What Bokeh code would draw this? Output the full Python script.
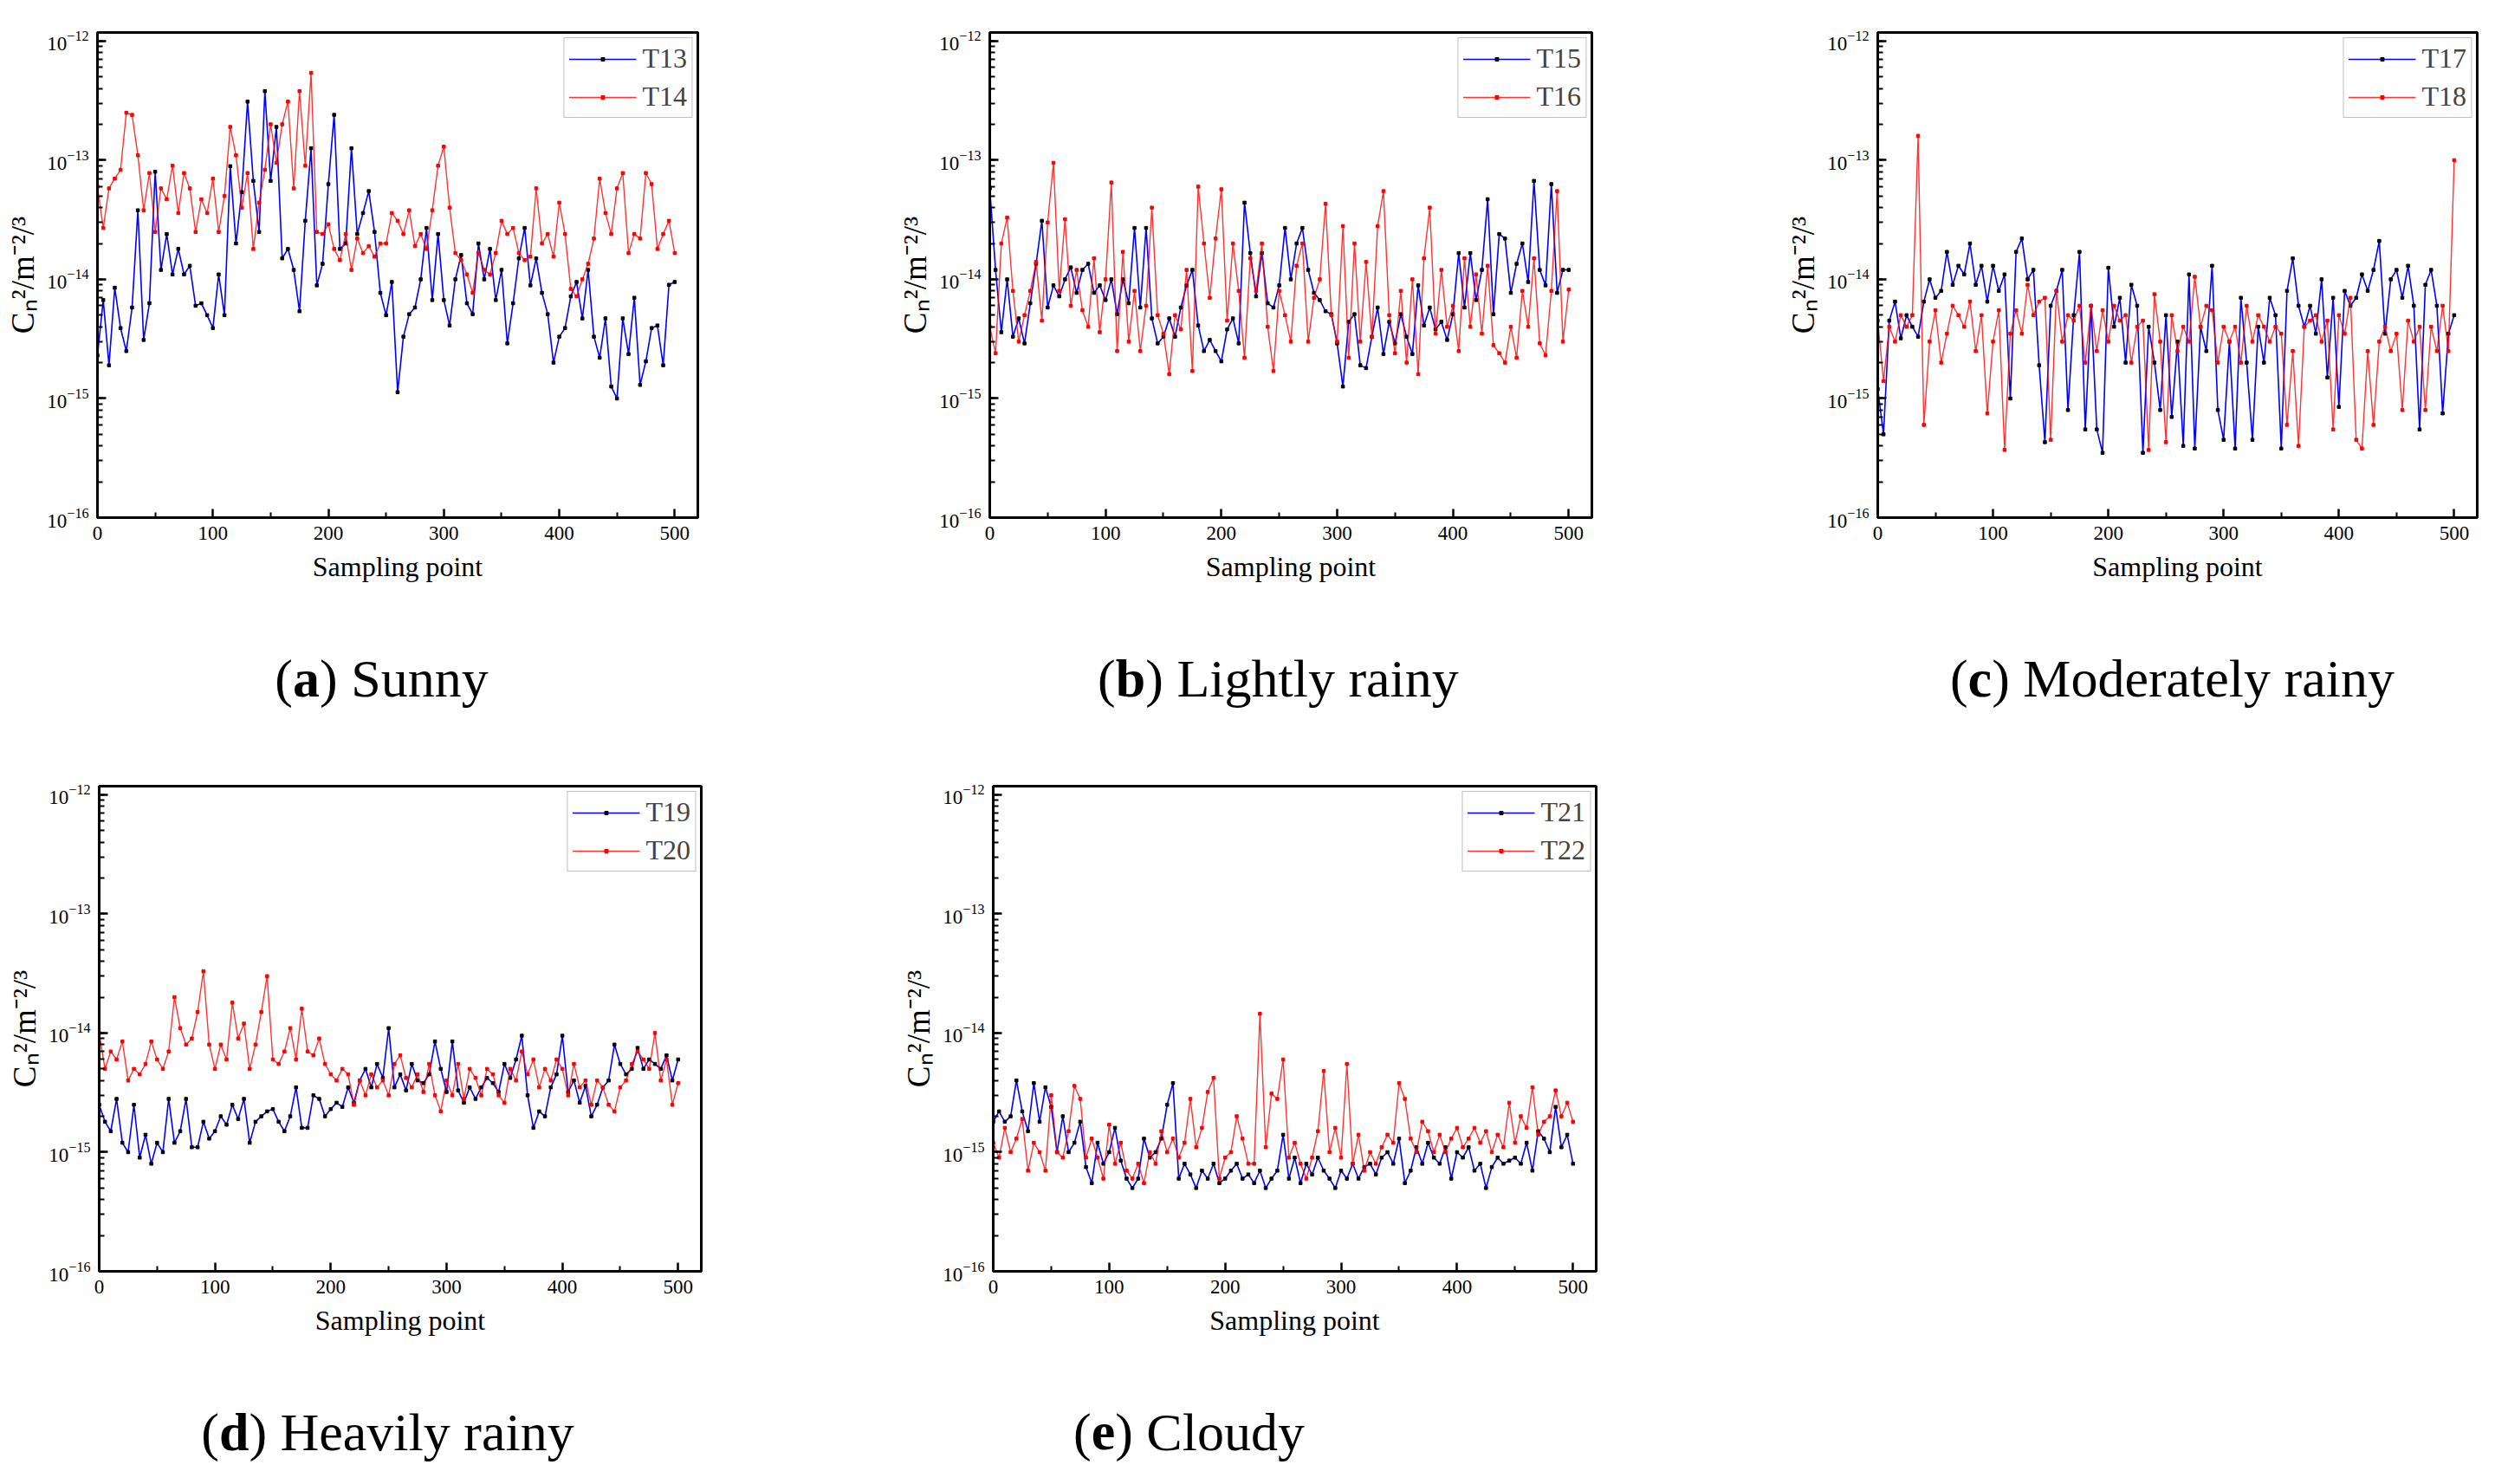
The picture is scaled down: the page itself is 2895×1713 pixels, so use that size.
from bokeh.plotting import figure
from bokeh.layouts import column, row
from bokeh.models import Range1d, FixedTicker, LogTicker, Legend, LegendItem, ColumnDataSource
from bokeh.embed import file_html
from bokeh.resources import INLINE
from bokeh.core.properties import value

# ---------------- data (values in units of 1e-15 m^-2/3) ----------------
SAMPLING = list(range(0, 501, 5))
UNIT = 1e-15

T13 = [2.3, 6.7, 1.9, 8.5, 3.9, 2.5, 5.8, 38, 3.1, 6.3,
       80, 12, 24, 11, 18, 11, 13, 6, 6.3, 5,
       3.9, 11, 5, 89, 20, 54, 310, 67, 25, 380,
       67, 190, 15, 18, 12, 5.4, 31, 126, 8.9, 13.5,
       63, 240, 18, 20, 126, 24, 36, 55, 25, 7.7,
       5, 9.5, 1.13, 3.3, 5.1, 5.8, 10, 27, 6.7, 24,
       6.7, 4.1, 10, 16, 6.3, 5.1, 20, 10, 18, 6.7,
       12, 2.9, 6.3, 15, 27, 8.9, 15, 7.7, 5.1, 2.0,
       3.3, 3.9, 7.2, 9.5, 4.7, 12, 3.3, 2.2, 4.7, 1.26,
       1.0, 4.7, 2.36, 7, 1.3, 2.05, 3.9, 4.1, 1.9, 9,
       9.5]
T14 = [60, 27, 58, 70, 83, 250, 240, 110, 38, 78,
       25, 58, 47, 90, 36, 78, 58, 25, 47, 36,
       70, 25, 50, 190, 110, 40, 78, 18, 44, 83,
       200, 95, 200, 310, 58, 380, 90, 540, 25, 24,
       29, 18, 14.5, 24, 12, 22, 16.6, 19, 15.5, 20,
       20, 36, 31, 24, 38, 19, 24, 18, 38, 90,
       130, 40, 16.6, 14.5, 11, 7.7, 16.6, 12, 11, 16.6,
       31, 24, 27, 16.6, 14.5, 15.5, 58, 20, 24, 15.5,
       44, 24, 8.3, 7.2, 10, 13.5, 22, 70, 36, 24,
       58, 78, 16.6, 24, 22, 78, 63, 18, 24, 31,
       16.6]
T15 = [58, 12, 3.6, 10, 3.3, 4.7, 2.9, 6.3, 13.5, 31,
       5.8, 8.9, 7.2, 10, 12.6, 7.7, 12, 13.5, 7.7, 8.9,
       6.7, 10, 5.1, 10, 6.3, 27, 5.8, 27, 4.7, 2.9,
       3.3, 4.7, 3.3, 5.8, 8.9, 12, 4.1, 2.5, 3.1, 2.5,
       2.05, 3.8, 4.7, 2.9, 44, 16.6, 7.2, 16.6, 6.3, 5.8,
       8.9, 27, 10, 20, 27, 12, 7.7, 6.7, 5.4, 5.1,
       2.9, 1.26, 4.4, 5.1, 1.9, 1.8, 3.3, 5.8, 2.36, 4.4,
       2.9, 5.1, 3.3, 2.36, 8.9, 4.1, 5.8, 3.8, 4.4, 3.1,
       5.1, 16.6, 5.8, 16.6, 6.7, 12, 47, 5.1, 24, 22,
       7.7, 13.5, 20, 9.5, 67, 12, 8.9, 63, 7.7, 12,
       12]
T16 = [4, 2.4, 20, 33, 8, 3.0, 5, 8, 14, 4.5,
       30, 95, 8, 32, 6, 12, 5.5, 4, 15, 3.6,
       10, 65, 2.5, 17, 3, 8, 2.5, 6, 40, 5,
       3.5, 1.6, 5, 3.8, 12, 1.7, 60, 20, 7, 22,
       57, 4.5, 20, 8, 2.2, 15, 8, 20, 4, 1.7,
       8, 5, 3, 13, 20, 3, 7, 10, 43, 5,
       3, 28, 2.2, 20, 3, 14, 3.3, 28, 55, 5,
       2.4, 8, 2, 10, 1.6, 15, 40, 3.5, 12, 4,
       6, 2.5, 15, 4, 11, 3.5, 13, 2.8, 2.4, 2.0,
       4, 2.2, 8, 4, 15, 2.9, 2.3, 8, 55, 3,
       8.2]
T17 = [1.2, 0.5, 4.5, 6.5, 3.2, 5, 4, 3.3, 6.5, 10,
       7, 8, 17, 9, 13, 11, 20, 9, 13, 6.5,
       13, 8, 11, 1.0, 17, 22, 10, 12, 1.9, 0.43,
       6, 8, 12, 0.8, 5, 17, 0.55, 6, 0.55, 0.35,
       12.5, 4, 7, 2, 9, 6, 0.35, 4, 2, 0.8,
       5, 0.7, 3, 0.4, 11, 0.38, 4, 2.5, 13, 0.8,
       0.45, 3, 0.38, 7, 2, 0.45, 4, 2, 7, 5,
       0.38, 8, 15, 6, 4, 6, 3.5, 10, 1.5, 7,
       0.85, 8, 6, 7, 11, 8, 12, 21, 3.5, 10,
       12, 7, 13, 6, 0.55, 9, 12, 6, 0.75, 3.5,
       5]
T18 = [4.5, 1.4, 4, 3, 5, 4, 5, 160, 0.6, 3,
       5.5, 2.0, 3.5, 6, 5, 4, 6.5, 2.5, 5, 0.75,
       3, 5.5, 0.37, 3.5, 5.5, 3.5, 9, 5, 6.5, 7,
       0.45, 8, 3, 5, 4.5, 6, 2, 6, 2.5, 5.5,
       3, 6, 4.5, 5, 2, 4, 4.5, 0.37, 7.5, 3,
       0.43, 5, 2.5, 4, 3, 10.5, 4, 6, 5.5, 2,
       4, 3, 4, 2, 6, 3, 5, 4, 3, 4,
       3.5, 0.6, 2.5, 0.4, 4, 4.5, 5, 3, 4.5, 0.55,
       5, 3.5, 7, 0.45, 0.38, 2.5, 0.6, 3, 4, 2.5,
       3.5, 0.8, 4.5, 3, 4, 0.8, 4, 2.5, 6, 2.5,
       100]
T19 = [2.5, 1.8, 1.5, 2.8, 1.2, 1.0, 2.5, 0.9, 1.4, 0.8,
       1.2, 1.0, 2.8, 1.2, 1.5, 2.8, 1.1, 1.1, 1.8, 1.3,
       1.5, 2.0, 1.7, 2.5, 1.9, 2.8, 1.2, 1.8, 2.0, 2.2,
       2.3, 1.8, 1.5, 2.0, 3.5, 1.6, 1.6, 3.0, 2.8, 2.0,
       2.3, 2.6, 2.4, 3.5, 2.6, 4.0, 5.0, 3.5, 5.5, 4.2,
       11, 3.5, 4.5, 3.3, 5.5, 4.0, 3.8, 4.5, 8.5, 5.0,
       3.2, 8.5, 3.3, 2.6, 3.5, 2.8, 3.5, 4.2, 3.8, 3.2,
       5.5, 4.2, 6.0, 9.5, 3.0, 1.6, 2.2, 2.0, 3.5, 4.5,
       9.5, 3.2, 4.0, 2.6, 3.6, 2.0, 2.5, 3.5, 4.0, 8.0,
       5.5, 4.5, 5.0, 7.5, 5.0, 6.0, 5.5, 5.0, 6.5, 4.0,
       6.0]
T20 = [10, 5, 7, 6, 8.5, 4, 5, 4.5, 5.5, 8.5,
       6, 5, 7, 20, 11, 8, 9, 15, 33, 8,
       5, 8, 6, 18, 9, 12, 5, 8, 15, 30,
       6, 5.5, 7, 11, 6, 16, 7, 6.5, 9, 5.5,
       4.5, 4, 5, 4.5, 2.5, 4, 3, 4.5, 3.5, 4,
       3, 5.5, 6.5, 4.2, 3.5, 4.5, 3.2, 5.5, 3, 2.2,
       4, 3, 5.5, 2.8, 5, 4.2, 3, 5, 4.5, 3,
       2.6, 5, 4, 7, 4.5, 6, 3.5, 5, 4, 6,
       5, 3, 5.5, 3.5, 4, 2.5, 4, 3.5, 2.5, 2.2,
       3.5, 4, 5.5, 7, 6, 5, 10, 4, 6, 2.5,
       3.8]
T21 = [1.8, 2.2, 1.8, 2.0, 4.0, 2.2, 1.5, 3.8, 1.8, 3.5,
       2.4, 1.0, 2.0, 1.0, 1.2, 1.8, 0.75, 0.55, 1.2, 0.8,
       1.0, 1.6, 0.85, 0.6, 0.5, 0.6, 1.3, 0.9, 1.0, 1.3,
       2.5, 3.8, 0.6, 0.8, 0.65, 0.5, 0.7, 0.6, 0.8, 0.55,
       0.6, 0.7, 0.8, 0.6, 0.65, 0.55, 0.7, 0.5, 0.6, 0.7,
       1.4, 0.6, 0.9, 0.55, 0.8, 0.65, 0.9, 0.7, 0.6, 0.5,
       0.7, 0.6, 0.8, 0.6, 0.75, 0.8, 0.65, 0.9, 1.0, 0.8,
       1.3, 0.55, 0.7, 1.1, 0.8, 1.2, 0.9, 0.8, 1.1, 0.6,
       1.0, 0.9, 1.1, 0.7, 0.8, 0.5, 0.75, 0.9, 0.8, 0.85,
       0.9, 0.8, 1.2, 0.7, 1.5, 1.3, 1.0, 2.4, 1.1, 1.4,
       0.8]
T22 = [1.2, 0.9, 1.6, 1.0, 1.3, 1.9, 0.7, 1.2, 1.0, 0.7,
       3.0, 1.0, 0.9, 1.5, 3.6, 2.8, 0.9, 1.3, 0.9, 0.6,
       1.7, 0.8, 1.2, 0.7, 0.6, 0.8, 0.55, 1.0, 0.8, 1.5,
       1.0, 1.3, 0.9, 1.2, 2.8, 1.1, 1.6, 3.2, 4.2, 0.6,
       0.9, 1.0, 2.0, 1.3, 0.8, 0.8, 14.5, 1.1, 3.1, 2.8,
       6.0, 0.9, 1.2, 0.8, 0.6, 0.9, 1.5, 4.8, 1.0, 1.6,
       0.9, 5.5, 0.8, 1.4, 0.7, 1.0, 0.8, 1.1, 1.4, 1.2,
       3.8, 2.8, 1.3, 1.0, 1.8, 1.5, 1.0, 1.4, 1.0, 1.3,
       1.6, 1.1, 1.3, 1.6, 1.2, 1.5, 1.0, 1.4, 1.1, 2.6,
       1.2, 2.0, 1.6, 3.5, 1.4, 1.8, 2.0, 3.3, 2.0, 2.6,
       1.8]

X_TICKS = [0, 100, 200, 300, 400, 500]
X_MINOR = [50, 150, 250, 350, 450]
CAPTION_TAGS = ["a", "b", "c", "d", "e"]
CAPTION_NAMES = ["Sunny", "Lightly rainy", "Moderately rainy", "Heavily rainy", "Cloudy"]
SERIES_NAMES = [("T13", "T14"), ("T15", "T16"), ("T17", "T18"), ("T19", "T20"), ("T21", "T22")]
SERIES_VALUES = [(T13, T14), (T15, T16), (T17, T18), (T19, T20), (T21, T22)]

SERIF = "Liberation Serif"
BLUE = "#0000ff"
RED = "#ff0000"


def make_panel(idx, width, height, L, R, T, B):
    na, nb = SERIES_NAMES[idx]
    va, vb = SERIES_VALUES[idx]
    src = ColumnDataSource(dict(x=SAMPLING,
                                a=[v * UNIT for v in va],
                                b=[v * UNIT for v in vb]))
    p = figure(width=width, height=height, title=None,
               x_range=Range1d(0, 520), y_range=Range1d(1e-16, 1.18e-12),
               y_axis_type="log", output_backend="svg", toolbar_location=None,
               min_border_left=L, min_border_right=R, min_border_top=T, min_border_bottom=B,
               background_fill_color="white", border_fill_color="white")
    la = p.line("x", "a", source=src, line_color=BLUE, line_width=1.6)
    ma = p.scatter("x", "a", source=src, marker="square", size=3.5,
                   fill_color="black", line_color="black")
    lb = p.line("x", "b", source=src, line_color=RED, line_width=1.4, line_alpha=0.8)
    mb = p.scatter("x", "b", source=src, marker="square", size=3.5,
                   fill_color=RED, line_color=RED)

    legend = Legend(items=[LegendItem(label=na, renderers=[la, ma]),
                           LegendItem(label=nb, renderers=[lb, mb])],
                    location="top_right", margin=6, padding=5, spacing=7,
                    glyph_width=78, glyph_height=10, label_height=36, label_standoff=7,
                    label_text_font=SERIF, label_text_font_size="32px",
                    border_line_color="#808080", border_line_width=1.5,
                    background_fill_color="white", background_fill_alpha=1.0)
    p.add_layout(legend)

    p.xaxis.ticker = FixedTicker(ticks=X_TICKS, minor_ticks=X_MINOR)
    p.yaxis.ticker = LogTicker(num_minor_ticks=10)
    p.xaxis.axis_label = "Sampling point"
    p.yaxis.axis_label = "C\u2099\u00b2/m\u207b\u00b2/\u00b3"
    for ax in (p.xaxis[0], p.yaxis[0]):
        ax.axis_line_width = 3
        ax.axis_line_color = "black"
        ax.major_tick_line_width = 2.5
        ax.minor_tick_line_width = 2
        ax.major_tick_in = 10
        ax.major_tick_out = 0
        ax.minor_tick_in = 6
        ax.minor_tick_out = 0
        ax.major_label_text_font = SERIF
        ax.major_label_text_font_size = "23px"
        ax.major_label_text_color = "black"
        ax.major_label_standoff = 10
        ax.axis_label_text_font = SERIF
        ax.axis_label_text_font_style = "normal"
        ax.axis_label_text_color = "black"
    p.xaxis.axis_label_text_font_size = "32px"
    p.xaxis.axis_label_standoff = 10
    p.yaxis.axis_label_text_font_size = "37px"
    p.yaxis.axis_label_standoff = 4
    p.grid.visible = False
    p.outline_line_color = "black"
    p.outline_line_width = 3
    return p


# approximate advance widths (per em) for caption layout
REG_W = {'(': .333, ')': .333, ' ': .25, 'S': .556, 'u': .5, 'n': .5, 'y': .5, 'L': .611,
         'i': .278, 'g': .5, 'h': .5, 't': .278, 'l': .278, 'r': .333, 'a': .444,
         'M': .889, 'o': .5, 'd': .5, 'e': .444, 'H': .722, 'v': .5, 'C': .667}
BOLD_W = {'a': .5, 'b': .556, 'c': .444, 'd': .556, 'e': .444}
CAP_FS = 62


def caption_figure(height, top, centers, baseline, indices):
    cf = figure(width=2879, height=height, title=None,
                x_range=Range1d(8, 2887), y_range=Range1d(top + height, top),
                output_backend="svg", toolbar_location=None, min_border=0,
                x_axis_location=None, y_axis_location=None, outline_line_color=None)
    cf.grid.visible = False
    xo, xt, xr, to, tt, tr = [], [], [], [], [], []
    for c, i in zip(centers, indices):
        tag, name = CAPTION_TAGS[i], CAPTION_NAMES[i]
        rest = ") " + name
        w_open = REG_W['('] * CAP_FS
        w_tag = BOLD_W[tag] * CAP_FS
        w_rest = sum(REG_W.get(ch, .5) for ch in rest) * CAP_FS
        left = c - (w_open + w_tag + w_rest) / 2
        xo.append(left); to.append("(")
        xt.append(left + w_open); tt.append(tag)
        xr.append(left + w_open + w_tag); tr.append(rest)
    common = dict(text_font=value(SERIF), text_font_size=f"{CAP_FS}px",
                  text_align="left", text_baseline="alphabetic", text_color="black")
    cf.text(x=xo, y=[baseline] * len(xo), text=to, **common)
    cf.text(x=xt, y=[baseline] * len(xt), text=tt, text_font_style="bold", **common)
    cf.text(x=xr, y=[baseline] * len(xr), text=tr, **common)
    return cf


pa = make_panel(0, 1028, 707, 112, 223, 37, 110)
pb = make_panel(1, 1024, 707, 114, 215, 37, 110)
pc = make_panel(2, 827, 707, 115, 20, 37, 110)
cap1 = caption_figure(135, 715, [448, 1483, 2515], 790, [0, 1, 2])
pd = make_panel(3, 1032, 720, 114, 223, 65, 95)
pe = make_panel(4, 1020, 720, 114, 210, 65, 95)
cap2 = caption_figure(135, 1570, [455, 1380], 1660, [3, 4])

layout = column(row(pa, pb, pc), cap1, row(pd, pe), cap2)
open("out.html", "w").write(file_html(layout, INLINE))
